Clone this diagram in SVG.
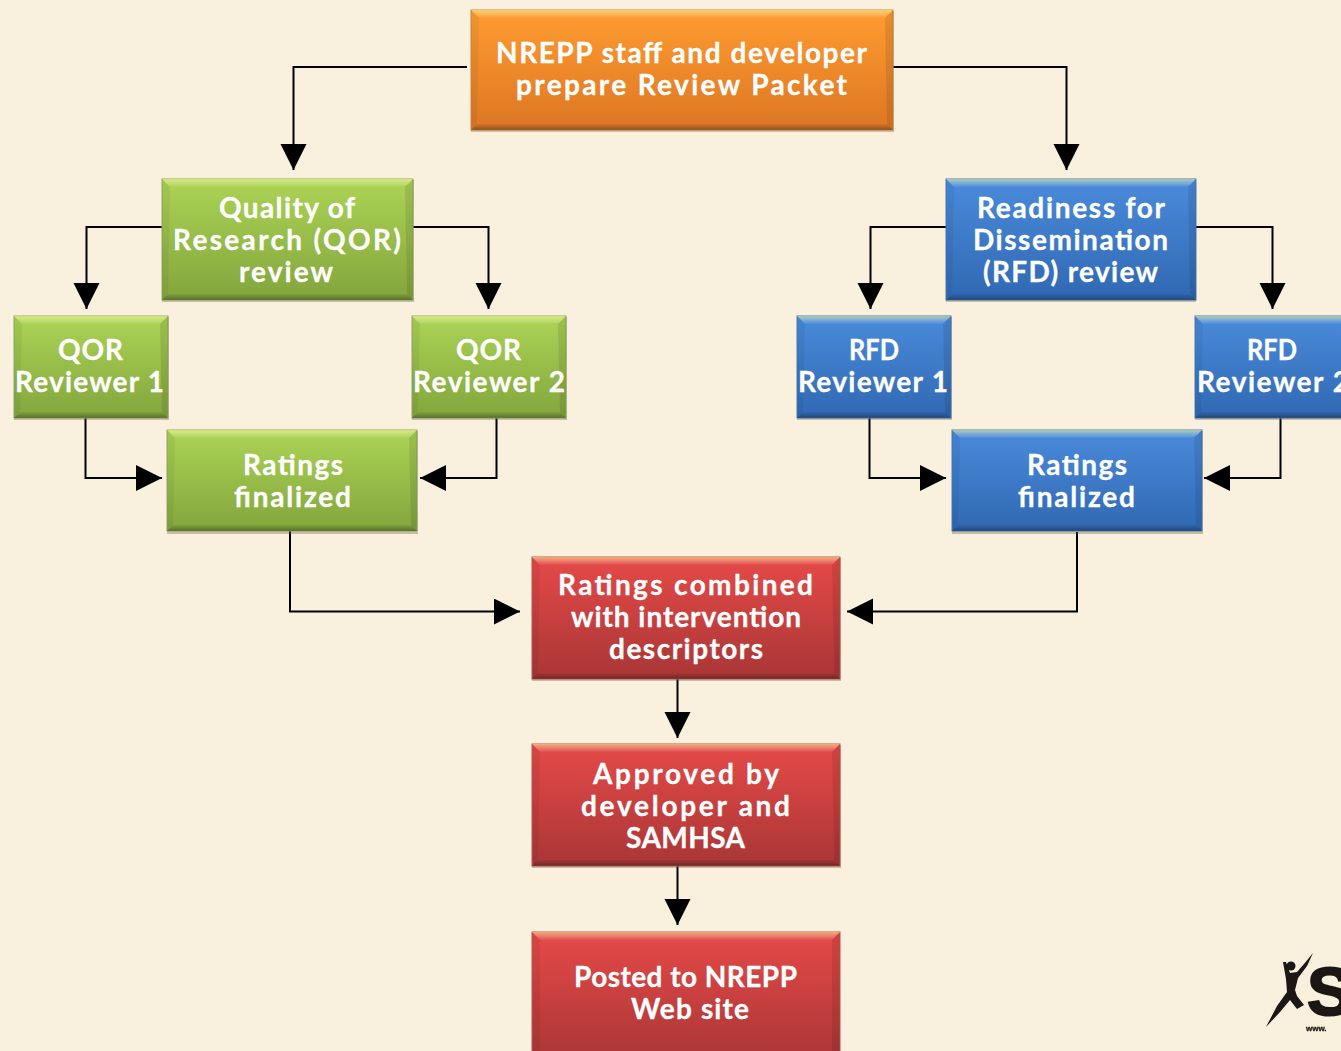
<svg xmlns="http://www.w3.org/2000/svg" width="1341" height="1051" viewBox="0 0 1341 1051">
<style>
text{font-family:"Lato","Open Sans","Liberation Sans",sans-serif;font-weight:700;font-size:28px;fill:#fff;stroke:#fff;stroke-width:.3px}
.s{fill:#6b5a3a;opacity:.35}
.hi{fill:url(#ghi)}
.lo{fill:url(#glo)}
.sl{fill:#000;opacity:.05}
.sr{fill:#000;opacity:.09}
.c{fill:none;stroke:#000;stroke-width:2}
.o{fill:url(#go);stroke:#c98a4a}
.g{fill:url(#gg);stroke:#8fa868}
.b{fill:url(#gb);stroke:#4a78b4}
.r{fill:url(#gr);stroke:#b85a58}
.lt{font-family:"Liberation Sans",sans-serif;fill:#1a1512;stroke:#1a1512}
</style>
<defs>
<linearGradient id="go" x1="0" y1="0" x2="0" y2="1"><stop offset="0" stop-color="#ff9c30"/><stop offset="1" stop-color="#dc7624"/></linearGradient>
<linearGradient id="gg" x1="0" y1="0" x2="0" y2="1"><stop offset="0" stop-color="#acd455"/><stop offset="1" stop-color="#82a53d"/></linearGradient>
<linearGradient id="gb" x1="0" y1="0" x2="0" y2="1"><stop offset="0" stop-color="#4a8bdb"/><stop offset="1" stop-color="#3068b2"/></linearGradient>
<linearGradient id="gr" x1="0" y1="0" x2="0" y2="1"><stop offset="0" stop-color="#e54a48"/><stop offset="1" stop-color="#a93636"/></linearGradient>
<linearGradient id="ghi" x1="0" y1="0" x2="0" y2="1"><stop offset="0" stop-color="#ffff90" stop-opacity=".55"/><stop offset="1" stop-color="#fff" stop-opacity=".03"/></linearGradient>
<linearGradient id="glo" x1="0" y1="0" x2="0" y2="1"><stop offset="0" stop-color="#000" stop-opacity=".04"/><stop offset="1" stop-color="#000" stop-opacity=".32"/></linearGradient>
<filter id="bl" x="-10%" y="-10%" width="120%" height="120%"><feGaussianBlur stdDeviation=".6"/></filter>
<marker id="a" markerUnits="userSpaceOnUse" markerWidth="27" markerHeight="27" refX="26" refY="13" orient="auto"><path d="M0 0L26 13L0 26Z" fill="#000"/></marker>
</defs>
<rect width="1341" height="1051" fill="#f9f1de"/>
<g id="connectors">
<path class="c" marker-end="url(#a)" d="M467 67H293.500V170"/>
<path class="c" marker-end="url(#a)" d="M893 67H1066.500V170"/>
<path class="c" marker-end="url(#a)" d="M162 227H86.500V309"/>
<path class="c" marker-end="url(#a)" d="M413 227H488.500V309"/>
<path class="c" marker-end="url(#a)" d="M946 227H870.500V309"/>
<path class="c" marker-end="url(#a)" d="M1196 227H1272.500V309"/>
<path class="c" marker-end="url(#a)" d="M85.500 418V478H162"/>
<path class="c" marker-end="url(#a)" d="M496.500 418V478H420"/>
<path class="c" marker-end="url(#a)" d="M869.500 418V478H946"/>
<path class="c" marker-end="url(#a)" d="M1280.500 418V478H1204"/>
<path class="c" marker-end="url(#a)" d="M290 530V611.500H520"/>
<path class="c" marker-end="url(#a)" d="M1077 532V611.500H847"/>
<path class="c" marker-end="url(#a)" d="M677.500 679V738"/>
<path class="c" marker-end="url(#a)" d="M677.500 866V925"/>
</g>
<g id="n-packet">
<rect class="s" x="471" y="11" width="423" height="121"/><rect class="o" x="471" y="10" width="422" height="120"/>
<polygon class="hi" points="471,10 893,10 885,18 479,18"/><polygon class="lo" points="471,130 893,130 887,124 477,124"/><polygon class="sl" points="471,10 479,18 477,124 471,130"/><polygon class="sr" points="893,10 885,18 887,124 893,130"/>
<text x="496" y="63" textLength="371">NREPP staff and developer</text><text x="516" y="95" textLength="331">prepare Review Packet</text>
</g>
<g id="n-qor">
<rect class="s" x="162" y="180" width="252" height="122"/><rect class="g" x="162" y="179" width="251" height="121"/>
<polygon class="hi" points="162,179 413,179 405,187 170,187"/><polygon class="lo" points="162,300 413,300 407,294 168,294"/><polygon class="sl" points="162,179 170,187 168,294 162,300"/><polygon class="sr" points="413,179 405,187 407,294 413,300"/>
<text x="219" y="218" textLength="136">Quality of</text><text x="173" y="250" textLength="228">Research (QOR)</text><text x="239" y="282" textLength="94">review</text>
</g>
<g id="n-qor1">
<rect class="s" x="14" y="317" width="155" height="103"/><rect class="g" x="14" y="316" width="154" height="102"/>
<polygon class="hi" points="14,316 168,316 160,324 22,324"/><polygon class="lo" points="14,418 168,418 162,412 20,412"/><polygon class="sl" points="14,316 22,324 20,412 14,418"/><polygon class="sr" points="168,316 160,324 162,412 168,418"/>
<text x="58" y="360" textLength="65">QOR</text><text x="15" y="392" textLength="149">Reviewer 1</text>
</g>
<g id="n-qor2">
<rect class="s" x="412" y="317" width="155" height="103"/><rect class="g" x="412" y="316" width="154" height="102"/>
<polygon class="hi" points="412,316 566,316 558,324 420,324"/><polygon class="lo" points="412,418 566,418 560,412 418,412"/><polygon class="sl" points="412,316 420,324 418,412 412,418"/><polygon class="sr" points="566,316 558,324 560,412 566,418"/>
<text x="456" y="360" textLength="65">QOR</text><text x="413" y="392" textLength="152">Reviewer 2</text>
</g>
<g id="n-qor-ratings">
<rect class="s" x="167" y="431" width="251" height="103"/><rect class="g" x="167" y="430" width="250" height="101"/>
<polygon class="hi" points="167,430 417,430 409,438 175,438"/><polygon class="lo" points="167,531 417,531 411,525 173,525"/><polygon class="sl" points="167,430 175,438 173,525 167,531"/><polygon class="sr" points="417,430 409,438 411,525 417,531"/>
<text x="243" y="475" textLength="100">Ratings</text><text x="234" y="507" textLength="117">finalized</text>
</g>
<g id="n-rfd">
<rect class="s" x="946" y="180" width="250" height="122"/><rect class="b" x="946" y="179" width="250" height="121"/>
<polygon class="hi" points="946,179 1196,179 1188,187 954,187"/><polygon class="lo" points="946,300 1196,300 1190,294 952,294"/><polygon class="sl" points="946,179 954,187 952,294 946,300"/><polygon class="sr" points="1196,179 1188,187 1190,294 1196,300"/>
<text x="977" y="218" textLength="188">Readiness for</text><text x="973" y="250" textLength="195">Dissemination</text><text x="983" y="282" textLength="175">(RFD) review</text>
</g>
<g id="n-rfd1">
<rect class="s" x="797" y="317" width="155" height="103"/><rect class="b" x="797" y="316" width="154" height="102"/>
<polygon class="hi" points="797,316 951,316 943,324 805,324"/><polygon class="lo" points="797,418 951,418 945,412 803,412"/><polygon class="sl" points="797,316 805,324 803,412 797,418"/><polygon class="sr" points="951,316 943,324 945,412 951,418"/>
<text x="849" y="360" textLength="50" lengthAdjust="spacingAndGlyphs">RFD</text><text x="798" y="392" textLength="150">Reviewer 1</text>
</g>
<g id="n-rfd2">
<rect class="s" x="1195" y="317" width="155" height="103"/><rect class="b" x="1195" y="316" width="154" height="102"/>
<polygon class="hi" points="1195,316 1349,316 1341,324 1203,324"/><polygon class="lo" points="1195,418 1349,418 1343,412 1201,412"/><polygon class="sl" points="1195,316 1203,324 1201,412 1195,418"/>
<text x="1247" y="360" textLength="50" lengthAdjust="spacingAndGlyphs">RFD</text><text x="1197" y="392" textLength="152">Reviewer 2</text>
</g>
<g id="n-rfd-ratings">
<rect class="s" x="952" y="431" width="251" height="103"/><rect class="b" x="952" y="430" width="250" height="101"/>
<polygon class="hi" points="952,430 1202,430 1194,438 960,438"/><polygon class="lo" points="952,531 1202,531 1196,525 958,525"/><polygon class="sl" points="952,430 960,438 958,525 952,531"/><polygon class="sr" points="1202,430 1194,438 1196,525 1202,531"/>
<text x="1027" y="475" textLength="100">Ratings</text><text x="1018" y="507" textLength="117">finalized</text>
</g>
<g id="n-combined">
<rect class="s" x="532" y="558" width="309" height="123"/><rect class="r" x="532" y="557" width="308" height="122"/>
<polygon class="hi" points="532,557 840,557 832,565 540,565"/><polygon class="lo" points="532,679 840,679 834,673 538,673"/><polygon class="sl" points="532,557 540,565 538,673 532,679"/><polygon class="sr" points="840,557 832,565 834,673 840,679"/>
<text x="558" y="595" textLength="255">Ratings combined</text><text x="571" y="627" textLength="230">with intervention</text><text x="609" y="659" textLength="154">descriptors</text>
</g>
<g id="n-approved">
<rect class="s" x="532" y="745" width="309" height="123"/><rect class="r" x="532" y="744" width="308" height="122"/>
<polygon class="hi" points="532,744 840,744 832,752 540,752"/><polygon class="lo" points="532,866 840,866 834,860 538,860"/><polygon class="sl" points="532,744 540,752 538,860 532,866"/><polygon class="sr" points="840,744 832,752 834,860 840,866"/>
<text x="593" y="784" textLength="186">Approved by</text><text x="581" y="816" textLength="209">developer and</text><text x="626" y="848" textLength="119">SAMHSA</text>
</g>
<g id="n-posted">
<rect class="r" x="532" y="932" width="308" height="130"/>
<polygon class="hi" points="532,932 840,932 832,940 540,940"/><polygon class="sl" points="532,932 540,940 540,1051 532,1051"/><polygon class="sr" points="840,932 832,940 832,1051 840,1051"/>
<text x="574" y="987" textLength="223">Posted to NREPP</text><text x="631" y="1019" textLength="118">Web site</text>
</g>
<g id="logo">
<g filter="url(#bl)">
<circle cx="1291" cy="966" r="4.500" fill="#1a1512"/>
<path fill="#1a1512" d="M1313 953L1307 966L1298 978L1295 990L1297 996L1304 1005L1297 1009L1290 1000L1280 1012L1266 1027L1277 1006L1287 992L1286 979L1283 962L1286 962L1290 973L1297 972L1304 964Z"/>
<text class="lt" x="1307" y="1015" style="font-size:68px;font-weight:700;stroke-width:2px">S</text>
<text class="lt" x="1306" y="1031" style="font-size:8px;font-weight:700;stroke-width:.3px">www.</text>
</g>
</g>
</svg>
